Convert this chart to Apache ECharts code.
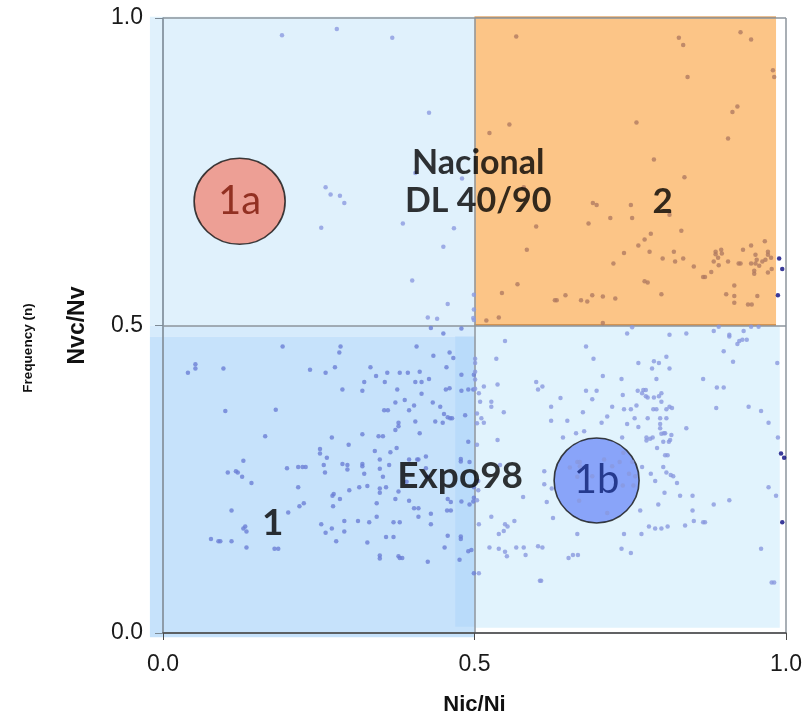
<!DOCTYPE html>
<html><head><meta charset="utf-8">
<script src="https://cdn.jsdelivr.net/npm/echarts@6/dist/echarts.min.js"></script>
<style>html,body{margin:0;padding:0;background:#fff}#c{width:805px;height:716px}</style>
</head><body><div id="c"></div>
<script>
// ---------- data ----------
const xTickLabels = ['0.0', '0.5', '1.0'];
const yTickLabels = ['0.0', '0.5', '1.0'];
const xAxisTitle = 'Nic/Ni';
const yAxisTitle = 'Nvc/Nv';
const sideTitle = 'Frequency (n)';

// quadrant zones [x0, y0, x1, y1]
const zoneBounds = [
  [-0.021, 0.5, 0.5, 1.002],
  [0.5, 0.5, 0.984, 1.002],
  [0.5, 0.0085, 0.990, 0.5],
  [-0.021, 0.482, 0.5, 0.5],
  [-0.021, -0.007, 0.5, 0.482],
  [0.469, 0.010, 0.5, 0.482]
];

// cluster markers
const circleLabels = ['1a', '1b'];
const circlePos = [[0.123, 0.702], [0.696, 0.248]];

// text annotations
const noteLabels = ['Nacional\nDL 40/90', '2', 'Expo98', '1'];
const notePos = [[0.506, 0.733], [0.802, 0.701], [0.477, 0.255], [0.176, 0.178]];

// points: upper-left (1a)
const pts1a = [[0.191,0.972],[0.279,0.982],[0.368,0.968],[0.427,0.846],[0.261,0.725],[0.269,0.713],[0.284,0.711],[0.291,0.699],[0.254,0.659],[0.385,0.666],[0.467,0.658],[0.450,0.628],[0.400,0.573],[0.457,0.535],[0.499,0.550],[0.425,0.513],[0.440,0.511],[0.499,0.526],[0.498,0.512],[0.405,0.748],[0.480,0.739],[0.499,0.509]];

// points: upper-right (2)
const pts2 = [[0.567,0.970],[0.828,0.968],[0.835,0.956],[0.927,0.977],[0.944,0.965],[0.842,0.904],[0.979,0.915],[0.981,0.904],
[0.922,0.856],[0.914,0.847],[0.907,0.804],[0.760,0.830],[0.556,0.827],[0.524,0.813],[0.788,0.770],[0.837,0.741],
[0.579,0.725],[0.690,0.699],[0.696,0.696],[0.751,0.696],[0.813,0.680],[0.718,0.675],[0.753,0.675],[0.683,0.666],
[0.599,0.661],[0.832,0.654],[0.783,0.649],[0.773,0.640],[0.763,0.630],[0.966,0.637],[0.584,0.623],[0.740,0.618],
[0.781,0.620],[0.820,0.620],[0.887,0.620],[0.896,0.623],[0.887,0.616],[0.897,0.617],[0.931,0.623],[0.944,0.630],
[0.971,0.620],[0.971,0.615],[0.802,0.609],[0.835,0.609],[0.822,0.604],[0.891,0.610],[0.884,0.604],[0.892,0.598],
[0.907,0.604],[0.924,0.601],[0.927,0.601],[0.951,0.615],[0.953,0.607],[0.951,0.601],[0.944,0.601],[0.957,0.597],
[0.962,0.604],[0.967,0.607],[0.976,0.610],[0.977,0.592],[0.971,0.586],[0.949,0.589],[0.949,0.584],[0.852,0.596],
[0.867,0.579],[0.870,0.579],[0.880,0.587],[0.723,0.601],[0.773,0.572],[0.778,0.570],[0.917,0.565],[0.569,0.567],
[0.544,0.553],[0.800,0.551],[0.904,0.551],[0.917,0.548],[0.954,0.548],[0.917,0.537],[0.939,0.534],[0.945,0.534],
[0.629,0.541],[0.632,0.541],[0.646,0.549],[0.671,0.541],[0.681,0.539],[0.689,0.549],[0.706,0.547],[0.726,0.544],
[0.539,0.513],[0.519,0.508],[0.706,0.504]];

// points: lower-left (1)
const pts1 = [[0.192,0.466],[0.285,0.466],[0.283,0.456],[0.407,0.466],[0.434,0.451],[0.460,0.456],[0.466,0.447],[0.455,0.432],
[0.052,0.437],[0.052,0.430],[0.040,0.423],[0.097,0.430],[0.236,0.428],[0.261,0.423],[0.276,0.432],[0.333,0.432],
[0.342,0.418],[0.360,0.423],[0.380,0.423],[0.393,0.423],[0.412,0.425],[0.405,0.408],[0.415,0.408],[0.427,0.413],
[0.356,0.408],[0.323,0.408],[0.320,0.394],[0.288,0.396],[0.376,0.396],[0.454,0.396],[0.460,0.398],[0.415,0.389],
[0.100,0.361],[0.181,0.363],[0.355,0.362],[0.361,0.362],[0.373,0.375],[0.388,0.379],[0.395,0.362],[0.403,0.370],
[0.433,0.375],[0.445,0.368],[0.451,0.356],[0.457,0.351],[0.461,0.349],[0.464,0.349],[0.437,0.344],[0.449,0.342],
[0.405,0.344],[0.378,0.342],[0.378,0.336],[0.373,0.330],[0.412,0.325],[0.346,0.320],[0.353,0.320],[0.320,0.323],
[0.271,0.318],[0.164,0.320],[0.298,0.306],[0.375,0.301],[0.252,0.299],[0.252,0.292],[0.340,0.296],[0.365,0.294],
[0.263,0.285],[0.348,0.282],[0.395,0.282],[0.408,0.282],[0.410,0.282],[0.422,0.287],[0.129,0.280],[0.288,0.275],
[0.296,0.273],[0.296,0.266],[0.258,0.273],[0.320,0.275],[0.320,0.271],[0.363,0.273],[0.422,0.268],[0.348,0.267],
[0.217,0.270],[0.224,0.270],[0.229,0.270],[0.199,0.268],[0.104,0.261],[0.117,0.263],[0.120,0.261],[0.127,0.254],
[0.142,0.244],[0.260,0.261],[0.323,0.259],[0.353,0.254],[0.217,0.237],[0.299,0.232],[0.315,0.237],[0.328,0.239],
[0.348,0.235],[0.348,0.228],[0.358,0.237],[0.378,0.230],[0.391,0.246],[0.425,0.254],[0.274,0.226],[0.272,0.223],
[0.284,0.218],[0.373,0.218],[0.395,0.215],[0.457,0.218],[0.462,0.213],[0.343,0.211],[0.273,0.206],[0.226,0.211],
[0.219,0.206],[0.201,0.196],[0.403,0.203],[0.410,0.203],[0.430,0.194],[0.456,0.199],[0.462,0.199],[0.410,0.189],
[0.343,0.189],[0.110,0.199],[0.291,0.182],[0.313,0.182],[0.331,0.180],[0.370,0.180],[0.380,0.180],[0.430,0.177],
[0.254,0.177],[0.271,0.170],[0.291,0.165],[0.261,0.163],[0.132,0.173],[0.129,0.170],[0.134,0.165],[0.077,0.153],
[0.089,0.149],[0.092,0.149],[0.110,0.149],[0.134,0.139],[0.179,0.137],[0.185,0.137],[0.278,0.149],[0.328,0.147],
[0.358,0.156],[0.370,0.156],[0.457,0.158],[0.452,0.139],[0.348,0.126],[0.348,0.121],[0.378,0.125],[0.380,0.122],
[0.384,0.122],[0.425,0.116],
[0.479,0.420],[0.499,0.420],[0.479,0.394],[0.490,0.396],[0.498,0.396],[0.485,0.354],[0.490,0.311],[0.478,0.283],
[0.478,0.279],[0.492,0.278],[0.479,0.214],[0.492,0.209],[0.498,0.214],[0.478,0.157],[0.478,0.153],[0.490,0.133],
[0.495,0.135],[0.476,0.119],[0.499,0.097],[0.499,0.220],[0.499,0.237],[0.430,0.496],[0.479,0.495],[0.450,0.487]];

// points: lower-right (1b)
const pts1b = [[0.753,0.497],[0.745,0.487],[0.813,0.485],[0.840,0.487],[0.884,0.491],[0.892,0.498],[0.909,0.485],[0.909,0.482],
[0.922,0.470],[0.925,0.475],[0.930,0.477],[0.937,0.477],[0.932,0.491],[0.944,0.498],[0.956,0.498],[0.549,0.475],
[0.679,0.466],[0.900,0.458],[0.915,0.441],[0.986,0.439],[0.535,0.446],[0.691,0.446],[0.763,0.439],[0.788,0.442],
[0.796,0.439],[0.808,0.449],[0.785,0.430],[0.813,0.430],[0.706,0.418],[0.736,0.413],[0.792,0.413],[0.867,0.413],
[0.599,0.408],[0.602,0.396],[0.609,0.401],[0.537,0.404],[0.515,0.401],[0.507,0.390],[0.679,0.394],[0.696,0.394],
[0.762,0.394],[0.769,0.390],[0.771,0.395],[0.775,0.395],[0.775,0.385],[0.778,0.383],[0.788,0.383],[0.796,0.385],
[0.800,0.390],[0.889,0.399],[0.900,0.399],[0.738,0.387],[0.689,0.380],[0.638,0.382],[0.800,0.376],[0.527,0.376],
[0.527,0.368],[0.509,0.376],[0.623,0.368],[0.721,0.368],[0.787,0.364],[0.792,0.364],[0.808,0.364],[0.813,0.368],
[0.817,0.366],[0.740,0.364],[0.751,0.364],[0.760,0.370],[0.888,0.366],[0.940,0.368],[0.960,0.361],[0.547,0.359],
[0.674,0.359],[0.511,0.349],[0.515,0.342],[0.623,0.345],[0.649,0.345],[0.713,0.352],[0.757,0.349],[0.778,0.349],
[0.798,0.349],[0.808,0.349],[0.745,0.340],[0.763,0.335],[0.704,0.342],[0.798,0.340],[0.798,0.333],[0.806,0.325],
[0.800,0.324],[0.804,0.325],[0.840,0.333],[0.972,0.342],[0.663,0.325],[0.676,0.328],[0.642,0.318],[0.537,0.314],
[0.737,0.318],[0.776,0.318],[0.782,0.316],[0.786,0.318],[0.776,0.313],[0.816,0.322],[0.814,0.314],[0.812,0.311],
[0.803,0.311],[0.793,0.301],[0.987,0.318],[0.806,0.289],[0.810,0.289],
[0.665,0.278],[0.669,0.278],[0.653,0.269],[0.669,0.271],[0.665,0.254],[0.689,0.255],[0.708,0.282],[0.721,0.271],
[0.733,0.278],[0.739,0.293],[0.753,0.278],[0.748,0.259],[0.758,0.255],[0.738,0.240],[0.755,0.240],[0.668,0.215],
[0.713,0.195],[0.769,0.270],[0.783,0.259],[0.790,0.247],[0.803,0.270],[0.808,0.261],[0.815,0.257],[0.819,0.255],
[0.825,0.244],[0.805,0.228],[0.830,0.223],[0.850,0.223],[0.909,0.216],[0.972,0.237],[0.984,0.223],[0.884,0.209],
[0.795,0.209],[0.766,0.199],[0.850,0.199],[0.852,0.182],[0.838,0.175],[0.867,0.180],[0.870,0.180],[0.780,0.173],
[0.790,0.170],[0.800,0.170],[0.810,0.173],[0.740,0.161],[0.768,0.161],[0.665,0.161],[0.736,0.137],[0.751,0.130],
[0.651,0.122],[0.658,0.127],[0.666,0.127],[0.605,0.085],[0.607,0.085],[0.960,0.137],[0.977,0.082],[0.981,0.082],
[0.626,0.187],[0.616,0.213],[0.612,0.242],[0.612,0.263],[0.624,0.235],[0.578,0.221],[0.564,0.182],[0.549,0.177],
[0.553,0.173],[0.547,0.166],[0.539,0.161],[0.527,0.189],[0.507,0.177],[0.524,0.139],[0.539,0.137],[0.549,0.132],
[0.552,0.125],[0.567,0.139],[0.579,0.139],[0.582,0.127],[0.602,0.141],[0.609,0.139],[0.507,0.097],[0.541,0.273],
[0.501,0.446],[0.501,0.439],[0.501,0.425],[0.501,0.412],[0.501,0.397],[0.504,0.357],[0.504,0.341],[0.504,0.306],
[0.506,0.247],[0.506,0.232],[0.504,0.216]];

// points on the right edge
const ptsEdge = [[0.989,0.609],[0.994,0.592],[0.987,0.549],[0.992,0.292],[0.997,0.285],[0.994,0.180]];

// ---------- styles ----------
const zoneColors = ['#e0f1fc', '#fcc587', '#e1f3fd', '#d6ebfc', '#c6e2fb', '#b9dbfa'];
const circleFill = ['#f08b7b', '#7390f7'];
const circleText = ['#7b1405', '#0d1f73'];
const circleSize = [[91, 86], [85, 85]];
const noteSize = [34, 35, 37, 37];

const chart = echarts.init(document.getElementById('c'), null, {renderer: 'canvas'});

const SANS = 'Liberation Sans, Arial, sans-serif';
const axisFont = {fontFamily: SANS, fontSize: 23, color: '#1a1a1a'};
const nameFont = {fontFamily: SANS, fontWeight: 'bold', fontSize: 22, color: '#111'};

const scatterBase = (name, data, color, z) => ({
  name, type: 'scatter', data, z, symbol: 'circle', symbolSize: 4.5,
  itemStyle: {color}, silent: true
});

chart.setOption({
  animation: false,
  backgroundColor: '#fff',
  grid: {left: 163, right: 19, top: 18, bottom: 83, containLabel: false, outerBoundsMode: 'none'},
  xAxis: {
    type: 'value', min: 0, max: 1, interval: 0.5, z: 3,
    name: xAxisTitle, nameLocation: 'middle', nameGap: 61, nameMoveOverlap: false,
    nameTextStyle: nameFont,
    axisLine: {show: true, onZero: false, lineStyle: {color: '#4a4a4a', width: 1.5}},
    axisTick: {show: true, length: 7, lineStyle: {color: '#4a4a4a'}},
    axisLabel: Object.assign({margin: 20, formatter: v => xTickLabels[Math.round(v / 0.5)]}, axisFont),
    splitLine: {show: true, lineStyle: {color: '#8d959c', width: 1.5}}
  },
  yAxis: {
    type: 'value', min: 0, max: 1, interval: 0.5, z: 3,
    name: yAxisTitle, nameLocation: 'middle', nameGap: 74, nameRotate: 90, nameMoveOverlap: false,
    nameTextStyle: Object.assign({}, nameFont, {fontSize: 23}),
    axisLine: {show: true, onZero: false, lineStyle: {color: '#8a99a6', width: 1.5}},
    axisTick: {show: true, length: 8, lineStyle: {color: '#7d8a95'}},
    axisLabel: Object.assign({margin: 20, formatter: v => yTickLabels[Math.round(v / 0.5)]}, axisFont),
    splitLine: {show: true, lineStyle: {color: '#8d959c', width: 1.5}}
  },
  graphic: [{
    type: 'text', x: 28, y: 348, rotation: Math.PI / 2, z: 10,
    style: {text: sideTitle, fontFamily: SANS, fontWeight: 'bold', fontSize: 13.5,
            fill: '#111', align: 'center', verticalAlign: 'middle'}
  }],
  series: [
    {
      name: 'zones', type: 'custom', z: 1, silent: true, clip: false,
      data: zoneBounds,
      encode: {x: [0, 2], y: [1, 3]},
      renderItem: (params, api) => {
        const a = api.coord([api.value(0), api.value(3)]);
        const b = api.coord([api.value(2), api.value(1)]);
        return {type: 'rect', shape: {x: a[0], y: a[1], width: b[0] - a[0], height: b[1] - a[1]},
                style: {fill: zoneColors[params.dataIndex]}};
      }
    },
    {
      name: 'orangeEdges', type: 'custom', z: 1, silent: true, clip: false,
      data: [zoneBounds[1]],
      encode: {x: [0, 2], y: [1, 3]},
      renderItem: (params, api) => {
        const a = api.coord([api.value(0), api.value(3)]);
        const b = api.coord([api.value(2), api.value(1)]);
        return {type: 'group', children: [
          {type: 'line', shape: {x1: a[0], y1: a[1] + 0.5, x2: b[0], y2: a[1] + 0.5}, style: {stroke: '#d59049', lineWidth: 1.5}},
          {type: 'line', shape: {x1: a[0], y1: b[1] - 0.5, x2: b[0], y2: b[1] - 0.5}, style: {stroke: '#c98540', lineWidth: 1.5}}
        ]};
      }
    },
    {
      name: 'clusters', type: 'scatter', z: 2, silent: true,
      data: circleLabels.map((n, i) => ({name: n, value: circlePos[i], label: {color: circleText[i]}})),
      symbol: 'circle',
      symbolSize: (v, p) => circleSize[p.dataIndex],
      itemStyle: {color: p => circleFill[p.dataIndex], borderColor: '#111', borderWidth: 1.6},
      label: {show: true, position: 'inside', formatter: p => p.name,
              fontFamily: 'Lato, Open Sans, sans-serif', fontSize: 40},
      emphasis: {disabled: true}
    },
    scatterBase('q1a', pts1a, '#8c9be0', 4),
    scatterBase('q2', pts2, '#b07a62', 4),
    scatterBase('q1', pts1, '#6b80d6', 4),
    scatterBase('q1b', pts1b, '#8a99df', 4),
    scatterBase('edge', ptsEdge, '#0a0a80', 4),
    {
      name: 'notes', type: 'scatter', z: 5, silent: true,
      data: noteLabels.map((n, i) => ({name: n, value: notePos[i], label: {fontSize: noteSize[i]}})),
      symbolSize: 1, itemStyle: {color: 'transparent'},
      label: {show: true, position: 'inside', formatter: p => p.name,
              fontFamily: 'Lato, Open Sans, sans-serif', fontWeight: 'bold',
              lineHeight: 38, color: '#000'},
      emphasis: {disabled: true}
    }
  ]
});
</script>
</body></html>
